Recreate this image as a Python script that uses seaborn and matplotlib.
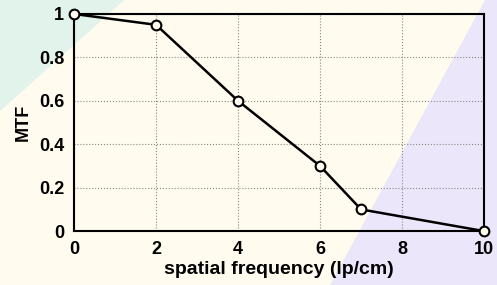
import matplotlib
matplotlib.use('Agg')
import matplotlib.pyplot as plt
import seaborn as sns
import pandas as pd
from matplotlib.patches import Polygon

# MTF curve values
freq = [0, 2, 4, 6, 7, 10]
mtf = [1.0, 0.95, 0.6, 0.3, 0.1, 0.0]
x_ticks = [0, 2, 4, 6, 8, 10]
y_ticks = [0, 0.2, 0.4, 0.6, 0.8, 1]
y_tick_labels = ['0', '0.2', '0.4', '0.6', '0.8', '1']

df = pd.DataFrame({'freq': freq, 'mtf': mtf})

sns.set_style('white')
plt.rcParams['font.family'] = ['Liberation Sans', 'DejaVu Sans']
plt.rcParams['font.weight'] = 'bold'
plt.rcParams['text.color'] = 'black'
plt.rcParams['axes.labelcolor'] = 'black'
plt.rcParams['xtick.color'] = 'black'
plt.rcParams['ytick.color'] = 'black'

fig = plt.figure(figsize=(4.97, 2.85), dpi=100)
fig.patch.set_facecolor('#fffbee')

# scanned-page tints in the corners, kept behind the axes
fig.patches.append(Polygon([[0, 1], [0.25, 1], [0, 0.61]], closed=True,
                           transform=fig.transFigure, facecolor='#e2f3ec',
                           edgecolor='none', zorder=-10))
fig.patches.append(Polygon([[0.975, 1], [1, 1], [1, 0], [0.664, 0]], closed=True,
                           transform=fig.transFigure, facecolor='#ece6fa',
                           edgecolor='none', zorder=-10))

ax = fig.add_axes([0.149, 0.189, 0.825, 0.762])
ax.set_facecolor('none')
ax.set_zorder(1)

sns.lineplot(data=df, x='freq', y='mtf', ax=ax, color='black', linewidth=1.8,
             marker='o', markersize=7, markerfacecolor='#fffbee',
             markeredgecolor='black', markeredgewidth=1.5, clip_on=False, zorder=5)

ax.set_xlim(0, 10)
ax.set_ylim(0, 1)
ax.set_xticks(x_ticks)
ax.set_yticks(y_ticks)
ax.set_yticklabels(y_tick_labels)
ax.tick_params(direction='in', length=3, width=1, labelsize=13, pad=7,
               color='black', labelcolor='black')
for lab in ax.get_xticklabels() + ax.get_yticklabels():
    lab.set_fontweight('bold')

ax.grid(True, linestyle=':', color='#888888', linewidth=0.8)
for side in ['left', 'bottom', 'top', 'right']:
    ax.spines[side].set_visible(True)
    ax.spines[side].set_color('black')
    ax.spines[side].set_linewidth(1.5)

ax.set_xlabel('spatial frequency (lp/cm)', fontsize=14, fontweight='bold',
              labelpad=2, color='black')
ax.set_ylabel('MTF', fontsize=13, fontweight='bold', labelpad=5, color='black')

fig.savefig('out.png', dpi=100, facecolor=fig.get_facecolor())
